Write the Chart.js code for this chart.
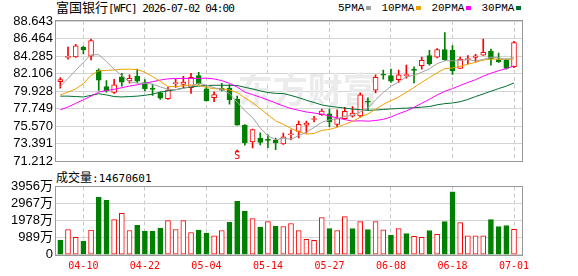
<!DOCTYPE html>
<html>
<head>
<meta charset="utf-8">
<script src="https://cdn.jsdelivr.net/npm/chart.js@4.4.1/dist/chart.umd.min.js"></script>
<style>
body { margin:0; background:#fff; width:578px; height:276px; overflow:hidden; position:relative; }
canvas { position:absolute; left:0; }
#main { top:0; }
#vol { top:170px; }
.txt { position:absolute; white-space:nowrap; color:#000; }
.cjk { font-family:"Noto Sans CJK SC", sans-serif; }
.mono { font-family:"DejaVu Sans Mono", monospace; }
#title { left:56px; top:-1px; font-size:13px; line-height:16px; }
#title .mono { font-size:11px; letter-spacing:-0.9px; }
#legend { left:338px; top:0px; font-family:"Liberation Mono", monospace; font-size:11px; line-height:16px; }
#legend i { display:inline-block; width:5px; height:4px; margin:0 10px 1px 2px; vertical-align:middle; }
#volTitle { left:56px; top:169px; font-size:12px; line-height:15px; }
#volTitle .mono { font-size:11px; }
</style>
</head>
<body>
<div id="title" class="txt cjk">富国银行<span class="mono">[WFC] 2026-07-02 04:00</span></div>
<div id="legend" class="txt"></div>
<div id="volTitle" class="txt cjk">成交量<span class="mono">:14670601</span></div>
<canvas id="main" width="578" height="172"></canvas>
<canvas id="vol" width="578" height="106"></canvas>
<script>
// trading days shown on the chart
const dates = ['04-07','04-08','04-09','04-10','04-13','04-14','04-15','04-16','04-17','04-20',
    '04-21','04-22','04-23','04-24','04-27','04-28','04-29','04-30','05-01','05-04',
    '05-05','05-06','05-07','05-08','05-11','05-12','05-13','05-14','05-15','05-18',
    '05-19','05-20','05-21','05-22','05-26','05-27','05-28','05-29','06-01','06-02',
    '06-03','06-04','06-05','06-08','06-09','06-10','06-11','06-12','06-15','06-16',
    '06-17','06-18','06-22','06-23','06-24','06-25','06-26','06-29','06-30','07-01'];
const dateTicks = ['04-10','04-22','05-04','05-14','05-27','06-08','06-18','07-01'];

const opens = [81.1, 84.1, 84.17, 85.4, 84.28, 82.5, 80.5, 79.75, 81.7, 81.2,
    81.75, 81.0, 80.25, 79.7, 79.0, 80.85, 80.75, 80.35, 81.85, 80.2,
    79.1, 80.3, 80.3, 78.95, 75.7, 73.6, 74.05, 73.9, 73.85, 73.35,
    74.5, 74.9, 75.7, 76.4, 77.0, 77.1, 75.8, 76.5, 76.8, 76.85,
    78.65, 80.05, 82.0, 81.85, 81.35, 81.85, 82.6, 83.1, 84.35, 84.15,
    85.1, 85.0, 82.75, 83.85, 84.1, 84.4, 84.9, 83.85, 83.75, 82.95];
const highs = [81.6, 85.4, 85.75, 85.5, 86.4, 82.7, 81.25, 81.4, 82.15, 81.95,
    82.65, 81.35, 80.75, 79.85, 80.4, 81.4, 81.75, 82.15, 82.25, 80.5,
    79.85, 80.9, 80.75, 79.3, 75.75, 75.2, 74.75, 74.5, 74.1, 74.7,
    75.1, 76.2, 76.2, 76.8, 77.7, 77.7, 77.6, 77.9, 78.0, 79.7,
    79.1, 81.95, 82.55, 82.65, 82.55, 83.15, 82.95, 84.15, 85.0, 85.2,
    87.2, 85.6, 84.15, 84.35, 84.5, 86.4, 85.15, 84.65, 83.95, 86.1];
const lows = [80.3, 83.9, 84.1, 84.55, 83.8, 80.0, 79.8, 79.65, 80.55, 80.9,
    81.0, 79.95, 79.4, 78.9, 78.9, 80.4, 80.35, 79.65, 80.75, 78.7,
    78.6, 79.95, 78.3, 75.7, 73.2, 72.85, 73.25, 72.9, 72.65, 73.3,
    73.85, 74.1, 74.7, 76.1, 76.9, 75.5, 75.5, 76.4, 76.7, 76.7,
    77.6, 79.7, 81.4, 81.0, 81.0, 81.55, 80.95, 82.65, 83.15, 84.05,
    83.75, 82.0, 82.75, 83.3, 83.55, 84.35, 83.15, 83.5, 82.65, 82.85];
const closes = [81.35, 84.25, 85.57, 85.05, 86.2, 81.3, 79.95, 80.7, 81.05, 81.5,
    81.15, 80.2, 80.15, 79.05, 80.05, 80.95, 81.05, 81.65, 80.85, 78.7,
    79.5, 80.05, 78.85, 75.7, 73.5, 75.15, 73.55, 73.8, 73.5, 74.25,
    74.6, 75.8, 75.95, 76.45, 77.45, 76.1, 76.5, 77.4, 77.2, 79.45,
    78.55, 81.65, 81.9, 81.15, 81.95, 81.9, 82.5, 83.75, 83.3, 85.1,
    83.85, 82.45, 83.9, 83.95, 84.3, 84.75, 83.9, 83.55, 82.75, 85.95];
const prevClose = 81.6; // close of the day before the first bar

const ma5 = [80.5, 81.5, 82.5, 83.5, 84.45, 84.45, 83.6, 82.65, 81.85, 81.1,
    80.9, 80.9, 80.8, 80.45, 80.15, 80.1, 80.25, 80.55, 80.9, 80.65,
    80.35, 80.15, 79.6, 78.55, 77.5, 76.65, 75.35, 74.35, 73.9, 74.05,
    73.95, 74.39, 74.82, 75.41, 76.05, 76.35, 76.49, 76.78, 76.93, 77.33,
    77.82, 78.85, 79.75, 80.54, 81.04, 81.71, 81.9, 82.27, 82.7, 83.33,
    83.7, 83.69, 83.72, 83.85, 83.68, 83.86, 84.15, 84.08, 83.85, 84.18];
const ma10 = [79.45, 79.8, 80.2, 80.85, 81.9, 82.45, 82.5, 82.55, 82.65, 82.65,
    82.6, 82.27, 81.73, 81.13, 80.51, 80.48, 80.59, 80.68, 80.66, 80.38,
    80.22, 80.2, 80.07, 79.74, 79.08, 78.5, 77.75, 76.97, 76.23, 75.79,
    75.3, 74.87, 74.58, 74.66, 75.05, 75.15, 75.44, 75.8, 76.17, 76.69,
    77.09, 77.67, 78.27, 78.74, 79.19, 79.78, 80.38, 81.01, 81.62, 82.19,
    82.72, 82.8, 83.0, 83.27, 83.5, 83.78, 83.92, 83.9, 83.85, 83.93];
const ma20 = [77.6, 77.95, 78.4, 78.85, 79.3, 79.8, 80.0, 80.15, 80.35, 80.55,
    80.7, 80.9, 81.1, 81.3, 81.45, 81.5, 81.5, 81.5, 81.5, 81.54,
    81.44, 81.23, 80.9, 80.43, 79.8, 79.49, 79.17, 78.82, 78.45, 78.08,
    77.76, 77.54, 77.33, 77.2, 77.07, 76.82, 76.6, 76.38, 76.2, 76.24,
    76.19, 76.27, 76.42, 76.7, 77.12, 77.46, 77.91, 78.41, 78.9, 79.44,
    79.9, 80.23, 80.63, 81.0, 81.35, 81.78, 82.15, 82.46, 82.73, 83.06];
const ma30 = [79.3, 79.3, 79.25, 79.2, 79.4, 79.6, 79.45, 79.25, 79.2, 79.25,
    79.3, 79.4, 79.55, 79.8, 79.95, 80.1, 80.3, 80.45, 80.55, 80.62,
    80.65, 80.65, 80.65, 80.62, 80.4, 80.2, 79.95, 79.75, 79.65, 79.62,
    79.39, 79.11, 78.79, 78.51, 78.21, 78.04, 77.93, 77.82, 77.69, 77.62,
    77.53, 77.58, 77.64, 77.71, 77.77, 77.81, 77.86, 77.93, 78.01, 78.22,
    78.37, 78.45, 78.61, 78.89, 79.25, 79.57, 79.91, 80.24, 80.55, 80.94];

// volume in 万 shares
const volumes = [846, 1462, 1002, 789, 1422, 3322, 3150, 2038, 2401, 1405,
    1710, 1365, 1365, 1537, 1981, 1462, 1981, 1290, 1422, 1250,
    1094, 1405, 1883, 3092, 2516, 2096, 1595, 1923, 1653, 1635,
    1808, 1405, 887, 829, 2153, 1520, 1405, 2211, 1520, 1923,
    1462, 1923, 1440, 1117, 1520, 1232, 1059, 1002, 1405, 1175,
    1923, 3651, 1866, 1094, 1094, 1094, 2038, 1635, 1693, 1467.06];

const priceTicks = [71.212, 73.391, 75.570, 77.749, 79.928, 82.106, 84.285, 86.464, 88.643];
const volTicks = [0, 989, 1978, 2967, 3956];
const signals = [{ date: '05-08', text: 'S' }];

const maLines = [
    { label: '5PMA', data: ma5, color: '#a0a0a0' },
    { label: '10PMA', data: ma10, color: '#f0a000' },
    { label: '20PMA', data: ma20, color: '#ff00ff' },
    { label: '30PMA', data: ma30, color: '#007030' }
];

const RED = '#ff0000', GREEN = '#008000';
const candleUp = i => closes[i] >= opens[i];
const dayUp = i => closes[i] >= (i ? closes[i - 1] : prevClose);

document.getElementById('legend').innerHTML = maLines
    .map(m => `${m.label}<i style="background:${m.color}"></i>`).join('');

const tickFont = { family: "'Liberation Sans', 'Noto Sans CJK SC', sans-serif", size: 13 };

function xAxis(showLabels) {
    return {
        type: 'linear', min: -0.56, max: 60.04, offset: false,
        afterBuildTicks: s => { s.ticks = dateTicks.map(d => ({ value: dates.indexOf(d) })); },
        afterFit: s => { s.height = showLabels ? 21.3 : 0; },
        grid: { color: '#c8c8c8', drawTicks: false, offset: false },
        border: { display: false, dash: [4, 3] },
        ticks: {
            display: showLabels, autoSkip: false, maxRotation: 0, padding: 6,
            color: RED, font: { family: "'DejaVu Sans Mono', monospace", size: 10 },
            callback: v => dates[v]
        }
    };
}

function yAxis(tickList, fmt) {
    return {
        min: tickList[0], max: tickList[tickList.length - 1],
        afterBuildTicks: s => { s.ticks = tickList.map(v => ({ value: v })); },
        afterFit: s => { s.width = 56; },
        grid: { color: '#d4d4d4', drawTicks: false },
        border: { display: false },
        ticks: { autoSkip: false, padding: 3, color: '#000', font: tickFont, callback: fmt }
    };
}

const frame = {
    id: 'frame',
    afterDatasetsDraw(chart) {
        const a = chart.chartArea, ctx = chart.ctx;
        ctx.save();
        ctx.strokeStyle = '#999999';
        ctx.lineWidth = 1;
        ctx.strokeRect(Math.round(a.left) - 0.5, Math.round(a.top) - 0.5,
            Math.round(a.right - a.left) + 1, Math.round(a.bottom - a.top) + 1);
        ctx.restore();
    }
};

const watermark = {
    id: 'watermark',
    beforeDatasetsDraw(chart) {
        const a = chart.chartArea, ctx = chart.ctx;
        ctx.save();
        ctx.font = 'bold 35px "Noto Sans CJK SC"';
        ctx.fillStyle = '#ebebeb';
        ctx.textAlign = 'center';
        ctx.textBaseline = 'middle';
        ctx.fillText('东方财富', a.left + (a.right - a.left) * 0.54, a.top + (a.bottom - a.top) * 0.49);
        ctx.restore();
    }
};

const signalMarks = {
    id: 'signalMarks',
    afterDatasetsDraw(chart) {
        const a = chart.chartArea, ctx = chart.ctx;
        ctx.save();
        ctx.fillStyle = RED;
        signals.forEach(s => {
            const x = chart.scales.x.getPixelForValue(dates.indexOf(s.date));
            ctx.beginPath();
            ctx.moveTo(x, a.bottom - 12);
            ctx.lineTo(x + 2.5, a.bottom - 9);
            ctx.lineTo(x - 2.5, a.bottom - 9);
            ctx.closePath();
            ctx.fill();
            ctx.font = '10px "DejaVu Sans Mono"';
            ctx.textAlign = 'center';
            ctx.textBaseline = 'bottom';
            ctx.fillText(s.text, x, a.bottom + 0.5);
        });
        ctx.restore();
    }
};

new Chart(document.getElementById('main'), {
    type: 'bar',
    data: {
        datasets: [
            ...maLines.map(m => ({
                type: 'line', label: m.label,
                data: m.data.map((v, i) => ({ x: i, y: v })),
                borderColor: m.color, borderWidth: 1, pointRadius: 0, tension: 0, order: 0
            })),
            {
                label: 'body',
                data: opens.map((o, i) => ({ x: i, y: [o, closes[i]] })),
                barThickness: 5, grouped: false, minBarLength: 1,
                borderWidth: 1, borderSkipped: false,
                backgroundColor: c => candleUp(c.dataIndex) ? '#ffffff' : GREEN,
                borderColor: c => candleUp(c.dataIndex) ? RED : GREEN,
                order: 1
            },
            {
                label: 'wick',
                data: lows.map((l, i) => ({ x: i, y: [l, highs[i]] })),
                barThickness: 1, grouped: false,
                backgroundColor: c => candleUp(c.dataIndex) ? RED : GREEN,
                order: 2
            }
        ]
    },
    options: {
        responsive: false, animation: false,
        layout: { padding: { top: 21, right: 56, bottom: 7, left: 0 } },
        plugins: { legend: { display: false }, tooltip: { enabled: false } },
        scales: {
            x: xAxis(false),
            y: yAxis(priceTicks, v => v.toFixed(3))
        }
    },
    plugins: [watermark, frame, signalMarks]
});

new Chart(document.getElementById('vol'), {
    type: 'bar',
    data: {
        datasets: [{
            label: 'volume',
            data: volumes.map((v, i) => ({ x: i, y: v })),
            barThickness: 5, borderWidth: 1, borderSkipped: false,
            backgroundColor: c => dayUp(c.dataIndex) ? '#ffffff' : GREEN,
            borderColor: c => dayUp(c.dataIndex) ? RED : GREEN
        }]
    },
    options: {
        responsive: false, animation: false,
        layout: { padding: { top: 16.5, right: 56, bottom: 0, left: 0 } },
        plugins: { legend: { display: false }, tooltip: { enabled: false } },
        scales: {
            x: xAxis(true),
            y: yAxis(volTicks, v => v ? v + '万' : '0')
        }
    },
    plugins: [frame]
});
</script>
</body>
</html>
